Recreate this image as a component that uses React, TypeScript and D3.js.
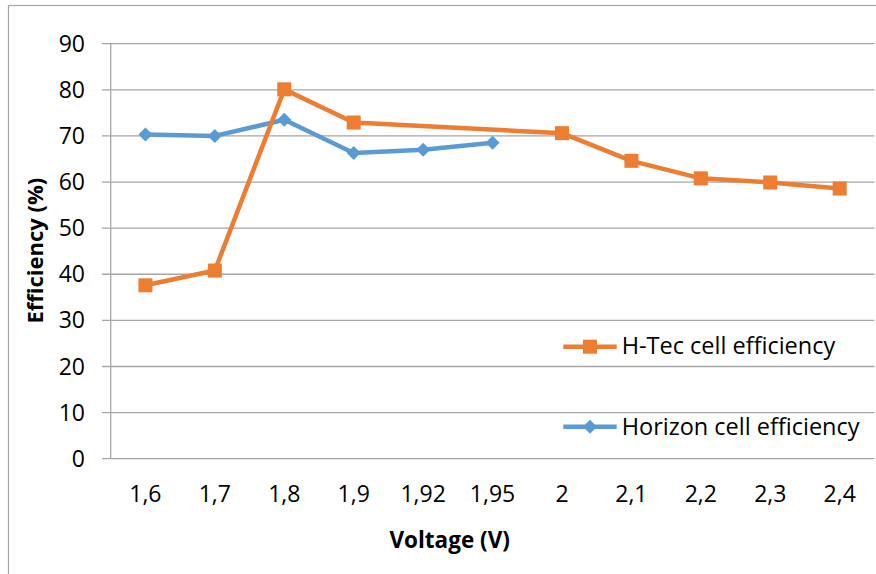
import React from "react";
import * as d3 from "d3";

const categories = ["1,6", "1,7", "1,8", "1,9", "1,92", "1,95", "2", "2,1", "2,2", "2,3", "2,4"];
const htecValues: (number | null)[] = [37.6, 40.8, 80.1, 72.9, null, null, 70.6, 64.6, 60.8, 59.9, 58.6];
const horizonValues: (number | null)[] = [70.3, 70.0, 73.5, 66.3, 67.0, 68.5, null, null, null, null, null];
const yTicks = [0, 10, 20, 30, 40, 50, 60, 70, 80, 90];
const seriesNames = ["H-Tec cell efficiency", "Horizon cell efficiency"];
const xTitle = "Voltage (V)";
const yTitle = "Efficiency (%)";

const W = 876;
const H = 574;
const FONT = "'Open Sans', sans-serif";
const ORANGE = "#ED7D31";
const BLUE = "#5B9BD5";
const GRID = "#A6A6A6";

const plot = { left: 110.7, right: 874.4, top: 43.7, bottom: 458.7 };

export default function App() {
  const x = d3.scaleBand<string>().domain(categories).range([plot.left, plot.right]).padding(0);
  const y = d3.scaleLinear().domain([0, 90]).range([plot.bottom, plot.top]);
  const cx = (c: string) => (x(c) as number) + x.bandwidth() / 2;

  const toPts = (vals: (number | null)[]) =>
    categories
      .map((c, i) => ({ c, v: vals[i] }))
      .filter((d) => d.v !== null) as { c: string; v: number }[];

  const line = d3
    .line<{ c: string; v: number }>()
    .x((d) => cx(d.c))
    .y((d) => y(d.v));

  const htec = toPts(htecValues);
  const horizon = toPts(horizonValues);
  const sq = 14;
  const dm = 7;
  const diamond = (px: number, py: number, r: number) =>
    `M${px},${py - r}L${px + r},${py}L${px},${py + r}L${px - r},${py}Z`;

  const legendX0 = 563.3;
  const legendX1 = 616.7;
  const legendMid = (legendX0 + legendX1) / 2;
  const legendY = [346.7, 426.7];

  return (
    <svg
      width={W}
      height={H}
      style={{ position: "absolute", left: 0, top: 0, background: "#fff" }}
      fontFamily={FONT}
    >
      <rect x={0} y={0} width={W} height={H} fill="#fff" />
      <rect x={8.5} y={5.5} width={W + 20} height={H + 20} fill="none" stroke={GRID} strokeWidth={1.2} />

      {yTicks.map((t) => (
        <g key={t}>
          <line x1={102} x2={plot.right} y1={y(t)} y2={y(t)} stroke={GRID} strokeWidth={1.3} />
          <text x={85} y={y(t)} dy="0.35em" textAnchor="end" fontSize={23} fill="#000">
            {t}
          </text>
        </g>
      ))}
      <line x1={plot.left} x2={plot.left} y1={plot.top} y2={plot.bottom} stroke={GRID} strokeWidth={1.3} />

      {categories.map((c) => (
        <text key={c} x={cx(c)} y={502} textAnchor="middle" fontSize={23} fill="#000">
          {c}
        </text>
      ))}

      <text x={449.7} y={548} textAnchor="middle" fontSize={22.5} fontWeight="bold" fill="#000">
        {xTitle}
      </text>
      <text
        transform={`translate(43.3,250.7) rotate(-90)`}
        textAnchor="middle"
        fontSize={22}
        fontWeight="bold"
        fill="#000"
      >
        {yTitle}
      </text>

      <path d={line(horizon) || ""} fill="none" stroke={BLUE} strokeWidth={4.5} strokeLinejoin="round" />
      {horizon.map((d) => (
        <path key={"h" + d.c} d={diamond(cx(d.c), y(d.v), dm)} fill={BLUE} />
      ))}
      <path d={line(htec) || ""} fill="none" stroke={ORANGE} strokeWidth={4.5} strokeLinejoin="round" />
      {htec.map((d) => (
        <rect key={"t" + d.c} x={cx(d.c) - sq / 2} y={y(d.v) - sq / 2} width={sq} height={sq} fill={ORANGE} />
      ))}

      <line x1={legendX0} x2={legendX1} y1={legendY[0]} y2={legendY[0]} stroke={ORANGE} strokeWidth={4.5} />
      <rect x={legendMid - sq / 2} y={legendY[0] - sq / 2} width={sq} height={sq} fill={ORANGE} />
      <text x={621.7} y={354} fontSize={23.5} fill="#000">
        {seriesNames[0]}
      </text>
      <line x1={legendX0} x2={legendX1} y1={legendY[1]} y2={legendY[1]} stroke={BLUE} strokeWidth={4.5} />
      <path d={diamond(legendMid, legendY[1], dm)} fill={BLUE} />
      <text x={621.7} y={435} fontSize={23.5} fill="#000">
        {seriesNames[1]}
      </text>
    </svg>
  );
}
